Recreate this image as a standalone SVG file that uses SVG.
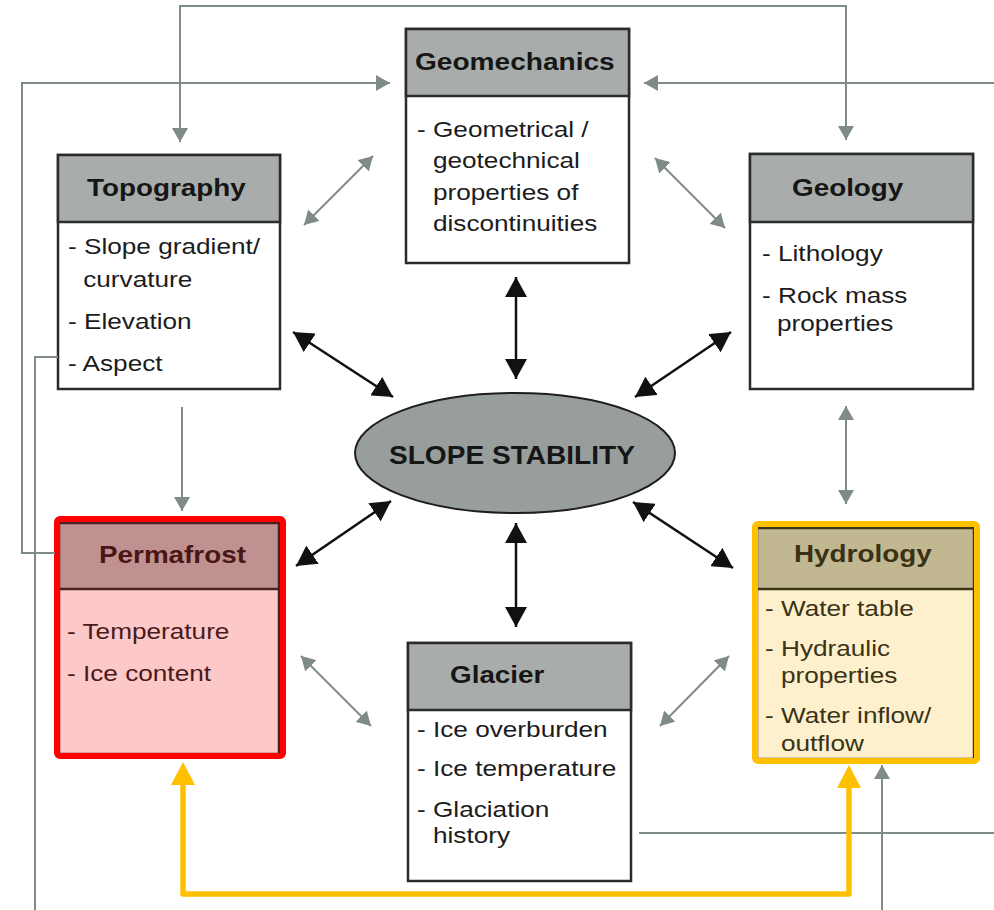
<svg xmlns="http://www.w3.org/2000/svg" width="994" height="910" viewBox="0 0 994 910">
<style>
.box{fill:#ffffff;stroke:#2b2b2b;stroke-width:2.5}
.hdr{fill:#a8adab;stroke:#2b2b2b;stroke-width:2.5}
.title{font-family:"Liberation Sans",Arial,sans-serif;font-weight:bold;font-size:24px;fill:#161616}
.body{font-family:"Liberation Sans",Arial,sans-serif;font-size:22px;fill:#1c1c1c}
.g{fill:none;stroke:#7f8b89;stroke-width:2}
.k{fill:none;stroke:#111111;stroke-width:2.5}
.y{fill:none;stroke:#ffc000;stroke-width:5.5;stroke-linejoin:round}
</style>
<defs>
<marker id="ag" viewBox="0 0 14 16" refX="14" refY="8" markerWidth="14" markerHeight="16" markerUnits="userSpaceOnUse" orient="auto-start-reverse"><path d="M0,0 L14,8 L0,16 z" fill="#7f8b89"/></marker>
<marker id="ak" viewBox="0 0 20 22" refX="20" refY="11" markerWidth="20" markerHeight="22" markerUnits="userSpaceOnUse" orient="auto-start-reverse"><path d="M0,0 L20,11 L0,22 z" fill="#111111"/></marker>
<marker id="ay" viewBox="0 0 23 24" refX="18" refY="12" markerWidth="23" markerHeight="24" markerUnits="userSpaceOnUse" orient="auto-start-reverse"><path d="M0,0 L23,12 L0,24 z" fill="#ffc000"/></marker>
</defs>
<rect width="994" height="910" fill="#ffffff"/>

<g id="geomechanics">
<rect class="box" x="406" y="29" width="223" height="234"/>
<rect class="hdr" x="406" y="29" width="223" height="67"/>
<text class="title" transform="translate(415 0) scale(1.17 1)" x="0" y="70">Geomechanics</text>
<text class="body" transform="translate(417 0) scale(1.19 1)"><tspan x="0" y="137">- Geometrical /</tspan><tspan x="13.4" y="168">geotechnical</tspan><tspan x="13.4" y="200">properties of</tspan><tspan x="13.4" y="231">discontinuities</tspan></text>
</g>

<g id="topography">
<rect class="box" x="58" y="155" width="222" height="234"/>
<rect class="hdr" x="58" y="155" width="222" height="67"/>
<text class="title" transform="translate(87 0) scale(1.16 1)" x="0" y="196">Topography</text>
<text class="body" transform="translate(68 0) scale(1.19 1)"><tspan x="0" y="254">- Slope gradient/</tspan><tspan x="12.8" y="287">curvature</tspan><tspan x="0" y="329">- Elevation</tspan><tspan x="0" y="371">- Aspect</tspan></text>
</g>

<g id="geology">
<rect class="box" x="750" y="154" width="223" height="235"/>
<rect class="hdr" x="750" y="154" width="223" height="68"/>
<text class="title" transform="translate(792 0) scale(1.16 1)" x="0" y="196">Geology</text>
<text class="body" transform="translate(762 0) scale(1.19 1)"><tspan x="0" y="261">- Lithology</tspan><tspan x="0" y="303">- Rock mass</tspan><tspan x="12.6" y="331">properties</tspan></text>
</g>

<g id="slope-stability">
<ellipse cx="515" cy="453" rx="160" ry="60" fill="#989e9c" stroke="#1e1e1e" stroke-width="2"/>
<text transform="translate(389 0) scale(1.08 1)" x="0" y="464" font-family="Liberation Sans, Arial, sans-serif" font-weight="bold" font-size="26" fill="#161616">SLOPE STABILITY</text>
</g>

<g id="permafrost">
<rect x="59" y="523" width="220" height="231" fill="#fdc8c8" stroke="#4a2020" stroke-width="2.5"/>
<rect x="59" y="523" width="220" height="66" fill="#bf9190" stroke="#4a2020" stroke-width="2.5"/>
<text class="title" transform="translate(99 0) scale(1.16 1)" x="0" y="563" fill="#4a1515" style="fill:#4a1515">Permafrost</text>
<text class="body" transform="translate(67 0) scale(1.19 1)" style="fill:#4a1a1a"><tspan x="0" y="639">- Temperature</tspan><tspan x="0" y="681">- Ice content</tspan></text>
<rect x="57" y="519" width="226" height="237" rx="3" fill="none" stroke="#ff0000" stroke-width="6"/>
</g>

<g id="hydrology">
<rect x="757" y="528" width="217" height="231" fill="#fef0cc" stroke="#3d3518" stroke-width="2.5"/>
<rect x="757" y="528" width="217" height="61" fill="#c1b892" stroke="#3d3518" stroke-width="2.5"/>
<text class="title" transform="translate(794 0) scale(1.16 1)" x="0" y="562" style="fill:#3a3114">Hydrology</text>
<text class="body" transform="translate(765 0) scale(1.19 1)" style="fill:#3a3318"><tspan x="0" y="616">- Water table</tspan><tspan x="0" y="656">- Hydraulic</tspan><tspan x="13.4" y="683">properties</tspan><tspan x="0" y="723">- Water inflow/</tspan><tspan x="13.4" y="751">outflow</tspan></text>
<rect x="755" y="524" width="222" height="237" rx="3" fill="none" stroke="#ffc000" stroke-width="6"/>
</g>

<g id="glacier">
<rect class="box" x="408" y="643" width="223" height="238"/>
<rect class="hdr" x="408" y="643" width="223" height="67"/>
<text class="title" transform="translate(450 0) scale(1.16 1)" x="0" y="683">Glacier</text>
<text class="body" transform="translate(417 0) scale(1.19 1)"><tspan x="0" y="737">- Ice overburden</tspan><tspan x="0" y="776">- Ice temperature</tspan><tspan x="0" y="817">- Glaciation</tspan><tspan x="13.4" y="843">history</tspan></text>
</g>

<g id="connectors">
<path class="g" d="M180,142 V6 H846 V140" marker-start="url(#ag)" marker-end="url(#ag)"/>
<path class="g" d="M55,553 H22 V83 H390" marker-end="url(#ag)"/>
<path class="g" d="M994,83 H644" marker-end="url(#ag)"/>
<path class="g" d="M58,357 H35 V910"/>
<path class="g" d="M182,407 V511" marker-end="url(#ag)"/>
<path class="g" d="M639,833 H994"/>
<path class="g" d="M882,910 V765" marker-end="url(#ag)"/>
<path class="g" d="M304,225 L373,156" marker-start="url(#ag)" marker-end="url(#ag)"/>
<path class="g" d="M655,158 L725,228" marker-start="url(#ag)" marker-end="url(#ag)"/>
<path class="g" d="M846,406 V504" marker-start="url(#ag)" marker-end="url(#ag)"/>
<path class="g" d="M301,656 L371,726" marker-start="url(#ag)" marker-end="url(#ag)"/>
<path class="g" d="M660,726 L729,656" marker-start="url(#ag)" marker-end="url(#ag)"/>
<path class="k" d="M293,332 L393,397" marker-start="url(#ak)" marker-end="url(#ak)"/>
<path class="k" d="M731,332 L635,397" marker-start="url(#ak)" marker-end="url(#ak)"/>
<path class="k" d="M296,566 L391,501" marker-start="url(#ak)" marker-end="url(#ak)"/>
<path class="k" d="M633,502 L733,568" marker-start="url(#ak)" marker-end="url(#ak)"/>
<path class="k" d="M516,277 V379" marker-start="url(#ak)" marker-end="url(#ak)"/>
<path class="k" d="M516,523 V627" marker-start="url(#ak)" marker-end="url(#ak)"/>
<path class="y" d="M183,767 V894 H849 V770" marker-start="url(#ay)" marker-end="url(#ay)"/>
</g>
</svg>
